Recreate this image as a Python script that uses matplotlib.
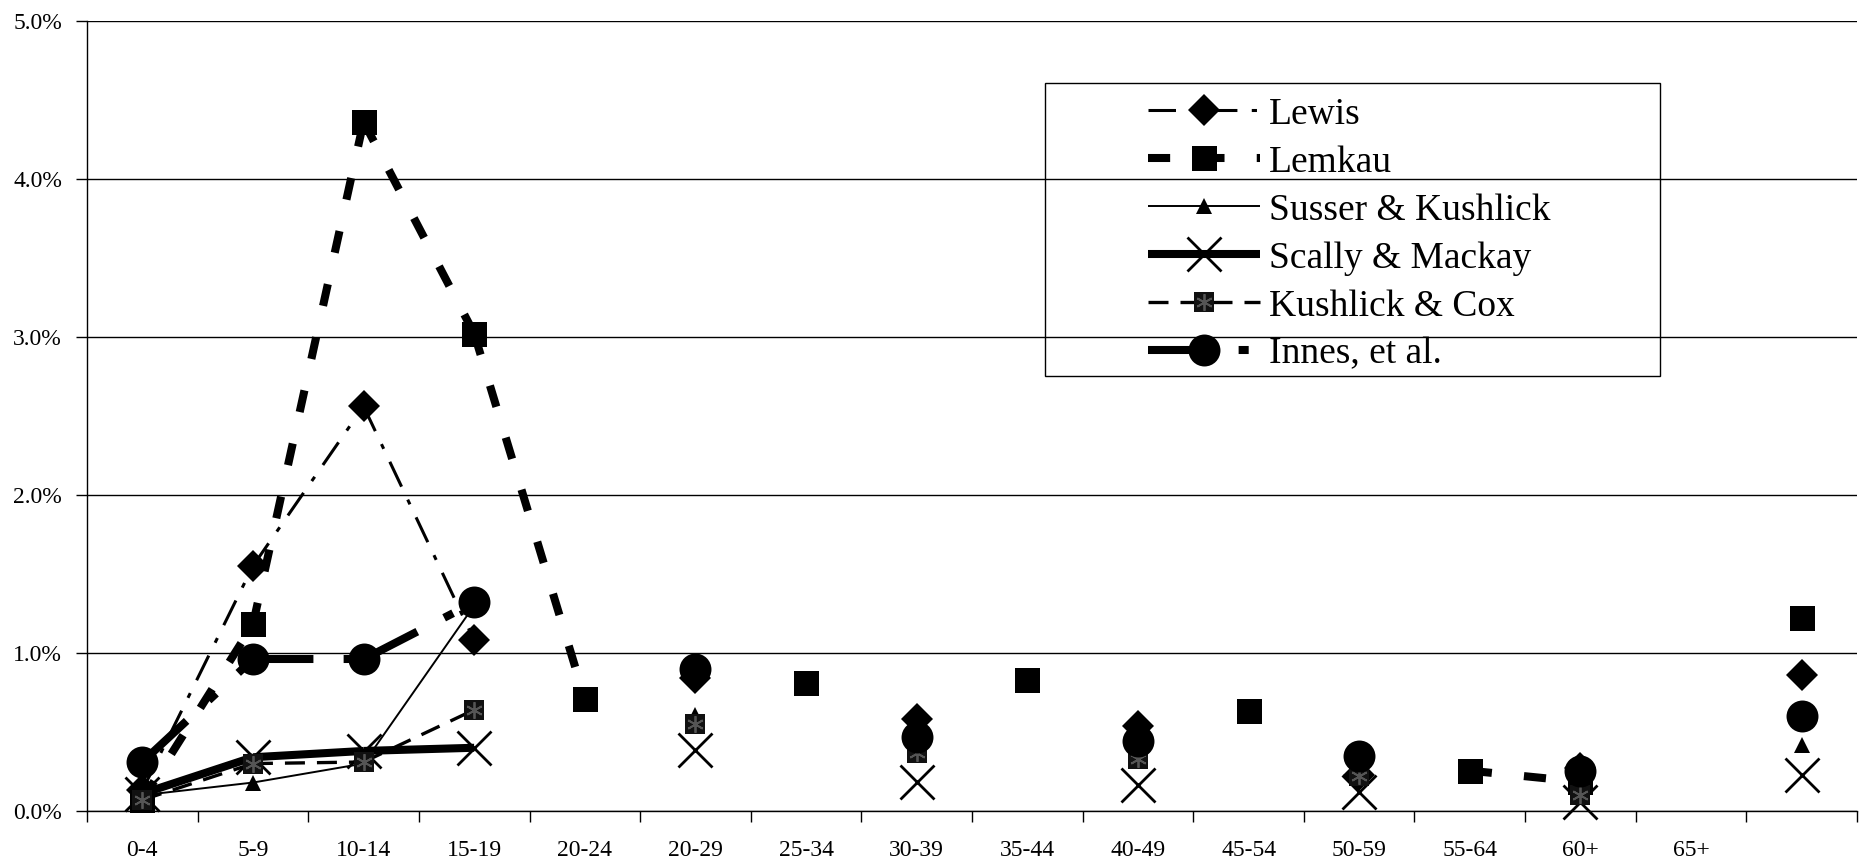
"""
Prevalence of mental retardation by age group, six population surveys.
"""
import numpy as np
import matplotlib
matplotlib.use("Agg")
import matplotlib.pyplot as plt
from matplotlib.lines import Line2D
from matplotlib.patches import Rectangle
from matplotlib.legend_handler import HandlerTuple
from matplotlib.ticker import FuncFormatter

plt.rcParams["font.family"] = ["Liberation Serif", "DejaVu Serif"]

nan = np.nan

# age-group columns (the last slot is unlabelled: all ages)
age_groups = ["0-4", "5-9", "10-14", "15-19", "20-24", "20-29", "25-34", "30-39",
              "35-44", "40-49", "45-54", "50-59", "55-64", "60+", "65+", ""]

# prevalence, percent
lewis = [0.13, 1.55, 2.56, 1.08, nan, 0.84, nan, 0.58, nan, 0.54, nan, 0.23, nan, 0.27, nan, 0.86]
lemkau = [0.07, 1.18, 4.36, 3.02, 0.71, nan, 0.81, nan, 0.83, nan, 0.63, nan, 0.255, 0.185, nan, 1.22]
susser_kushlick = [0.10, 0.18, 0.30, 1.30, nan, 0.61, nan, 0.45, nan, 0.42, nan, 0.25, nan, 0.22, nan, 0.42]
scally_mackay = [0.11, 0.34, 0.38, 0.40, nan, 0.385, nan, 0.185, nan, 0.165, nan, 0.12, nan, 0.06, nan, 0.23]
kushlick_cox = [0.07, 0.30, 0.31, 0.64, nan, 0.55, nan, 0.365, nan, 0.33, nan, 0.22, nan, 0.10, nan, nan]
innes = [0.31, 0.96, 0.96, 1.32, nan, 0.90, nan, 0.47, nan, 0.44, nan, 0.35, nan, 0.25, nan, 0.60]

labels = ["Lewis", "Lemkau", "Susser & Kushlick", "Scally & Mackay",
          "Kushlick & Cox", "Innes, et al."]
series = [lewis, lemkau, susser_kushlick, scally_mackay, kushlick_cox, innes]

line_styles = [
    dict(lw=2.2, dashes=(9, 4.7, 1.7, 4.7)),
    dict(lw=5.8, dashes=(2.75, 4.0)),
    dict(lw=1.4),
    dict(lw=5.8),
    dict(lw=2.4, dashes=(6, 3.6)),
    dict(lw=5.8, dashes=(7.5, 3.75, 1.25, 3.75)),
]
marker_styles = [
    dict(marker="D", ms=16, mfc="black", mec="black", mew=0),
    dict(marker="s", ms=18, mfc="black", mec="black", mew=0),
    dict(marker="^", ms=11, mfc="black", mec="black", mew=0),
    dict(marker="x", ms=24, mfc="black", mec="black", mew=2),
    dict(marker="s", ms=15, mfc="#111111", mec="#111111", mew=0),
    dict(marker="o", ms=23, mfc="black", mec="black", mew=0),
]
# grey asterisk printed on the Kushlick & Cox squares
star_style = dict(marker=(6, 2, 0), ms=12, mec="#555555", mew=1.3)

x = np.arange(len(age_groups))


def draw_series(ax, values, line_kw, marker_kw):
    """Draw each segment on its own so the dash pattern restarts at every point."""
    vals = np.asarray(values, dtype=float)
    for i in range(len(vals) - 1):
        seg = vals[i:i + 2]
        if np.isnan(seg).any():
            continue
        ax.plot(x[i:i + 2], seg, color="black", solid_capstyle="butt",
                dash_capstyle="butt", **line_kw)
    ax.plot(x, vals, linestyle="none", clip_on=False, **marker_kw)


fig = plt.figure(figsize=(18.65, 8.66), dpi=100)
ax = fig.add_axes([0.04665, 0.0635, 0.94906, 0.91282])

for vals, lkw, mkw in zip(series, line_styles, marker_styles):
    draw_series(ax, vals, lkw, mkw)
    if vals is kushlick_cox:
        ax.plot(x, vals, linestyle="none", clip_on=False, **star_style)

ax.set_xlim(-0.5, len(age_groups) - 0.5)
ax.set_ylim(0, 5)

ax.set_xticks(np.arange(len(age_groups) + 1) - 0.5)
ax.set_xticklabels([])
ax.set_xticks(x, minor=True)
ax.set_xticklabels(age_groups, minor=True, fontsize=17)
ax.tick_params(axis="x", which="major", length=8, width=1, direction="out")
ax.tick_params(axis="x", which="minor", length=0, pad=21)

ax.set_yticks(np.arange(0, 5.01, 1))
ax.yaxis.set_major_formatter(FuncFormatter(lambda v, _: f"{v:.1f}%"))
ax.tick_params(axis="y", length=8, width=1, direction="out", labelsize=17, pad=10)

ax.yaxis.grid(True, color="black", lw=1)
ax.set_axisbelow(True)
for side in ("top", "right"):
    ax.spines[side].set_visible(False)
for side in ("left", "bottom"):
    ax.spines[side].set_linewidth(1)

# legend proxies
handles = []
for lkw, mkw in zip(line_styles, marker_styles):
    h = Line2D([], [], color="black", solid_capstyle="butt", dash_capstyle="butt",
               **lkw, **mkw)
    handles.append(h)
handles[4] = (handles[4], Line2D([], [], linestyle="none", **star_style))

fig.legend(handles, labels, handler_map={tuple: HandlerTuple(ndivide=1)},
           loc="upper left", bbox_to_anchor=(1148 / 1865, (866 - 97) / 866),
           frameon=False, fontsize=27, numpoints=1, handlelength=3.0,
           handletextpad=0.22, labelspacing=0.36, borderpad=0, borderaxespad=0)
fig.add_artist(Rectangle((1045 / 1865, (866 - 376) / 866), 615 / 1865, 293 / 866,
                         transform=fig.transFigure, fill=False,
                         edgecolor="black", lw=1))

fig.savefig("out.png", dpi=100)
